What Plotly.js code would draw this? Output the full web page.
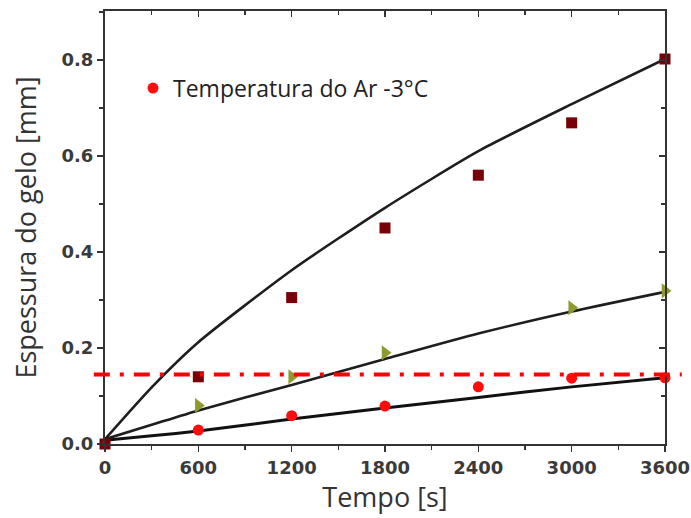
<!DOCTYPE html>
<html>
<head>
<meta charset="utf-8">
<script src="https://cdn.plot.ly/plotly-3.0.1.min.js"></script>
<style>html,body{margin:0;padding:0;background:#fff;}#chart{width:691px;height:518px;}</style>
</head>
<body>
<div id="chart"></div>
<script>
// Measured data
const timeSquares = [0, 600, 1200, 1800, 2400, 3000, 3600];
const thickSquares = [0.0, 0.140, 0.305, 0.450, 0.560, 0.669, 0.802];

const timeTriangles = [600, 1200, 1800, 3000, 3600];
const thickTriangles = [0.080, 0.140, 0.190, 0.284, 0.319];

const timeCircles = [600, 1200, 1800, 2400, 3000, 3600];
const thickCircles = [0.029, 0.059, 0.079, 0.119, 0.137, 0.138];

// Fitted curves
const fitTime = [0, 300, 600, 1200, 1800, 2400, 3000, 3600];
const fitUpper = [0.010, 0.118, 0.212, 0.362, 0.492, 0.610, 0.708, 0.802];
const fitMiddle = [0.010, 0.040, 0.070, 0.123, 0.177, 0.230, 0.276, 0.317];
const fitLower = [0.008, 0.017, 0.027, 0.052, 0.075, 0.097, 0.119, 0.138];

const limitThickness = 0.145;
const legendLabel = 'Temperatura do Ar -3°C';
const xTickVals = [0, 600, 1200, 1800, 2400, 3000, 3600];
const yTickVals = [0.0, 0.2, 0.4, 0.6, 0.8];
const yTickText = ['0.0', '0.2', '0.4', '0.6', '0.8'];

const lineStyle = {color: '#1e1e1e', width: 2.6, shape: 'spline', smoothing: 0.6};

const traces = [
  {x: fitTime, y: fitUpper, mode: 'lines', line: lineStyle, showlegend: false, hoverinfo: 'skip'},
  {x: fitTime, y: fitMiddle, mode: 'lines', line: lineStyle, showlegend: false, hoverinfo: 'skip'},
  {x: fitTime, y: fitLower, mode: 'lines', line: {color: '#111', width: 3, shape: 'spline', smoothing: 0.6}, showlegend: false, hoverinfo: 'skip'},
  {x: timeSquares, y: thickSquares, mode: 'markers', showlegend: false, cliponaxis: false,
   marker: {symbol: 'square', size: 11, color: '#780008'}},
  {x: timeTriangles, y: thickTriangles, mode: 'markers', showlegend: false, cliponaxis: false,
   marker: {symbol: 'triangle-right', size: 13, color: '#8e9a2c'}},
  {x: timeCircles, y: thickCircles, mode: 'markers', name: legendLabel, cliponaxis: false,
   marker: {symbol: 'circle', size: 11, color: '#ff0d0d'}},
  // invisible trace so the mirrored frame axes are drawn
  {x: [xTickVals[0]], y: [yTickVals[0]], xaxis: 'x2', yaxis: 'y2', mode: 'markers',
   marker: {opacity: 0}, showlegend: false, hoverinfo: 'skip'}
];

const tickFont = {family: 'DejaVu Sans, sans-serif', size: 18, color: '#3a3a3a', weight: 'bold'};
const titleFont = {family: 'Open Sans, Noto Sans, sans-serif', size: 27, color: '#333'};

const layout = {
  width: 691, height: 518,
  margin: {l: 105, r: 26, t: 11, b: 74},
  paper_bgcolor: '#fff', plot_bgcolor: '#fff',
  showlegend: true,
  legend: {x: 0.05, y: 0.822, xanchor: 'left', yanchor: 'middle', bgcolor: 'rgba(0,0,0,0)',
           font: {family: 'Open Sans, Noto Sans, sans-serif', size: 23, color: '#222'}},
  xaxis: {
    range: [0, 3600], tickvals: xTickVals, ticks: 'outside', ticklen: 6, tickwidth: 1.5, tickcolor: '#333',
    showline: true, linecolor: '#333', linewidth: 2, showgrid: false, zeroline: false,
    tickfont: tickFont,
    minor: {dtick: 300, ticks: 'outside', ticklen: 4, tickcolor: '#333'},
    title: {text: 'Tempo [s]', font: titleFont, standoff: 5}
  },
  yaxis: {
    range: [0, 0.902], tickvals: yTickVals, ticktext: yTickText,
    ticks: 'outside', ticklen: 6, tickwidth: 1.5, tickcolor: '#333',
    showline: true, linecolor: '#333', linewidth: 2, showgrid: false, zeroline: false,
    tickfont: tickFont,
    minor: {dtick: 0.1, ticks: 'outside', ticklen: 4, tickcolor: '#333'},
    title: {text: 'Espessura do gelo [mm]', font: titleFont, standoff: 17}
  },
  xaxis2: {
    overlaying: 'x', side: 'top', anchor: 'y2', range: [0, 3600], tickvals: xTickVals,
    ticks: 'inside', ticklen: 6, tickwidth: 1.5, tickcolor: '#333', showticklabels: false,
    showline: true, linecolor: '#333', linewidth: 2, showgrid: false, zeroline: false,
    minor: {dtick: 300, ticks: 'inside', ticklen: 4, tickcolor: '#333'}
  },
  yaxis2: {
    overlaying: 'y', side: 'right', anchor: 'x2', range: [0, 0.902], tickvals: yTickVals,
    ticks: 'inside', ticklen: 6, tickwidth: 1.5, tickcolor: '#333', showticklabels: false,
    showline: true, linecolor: '#333', linewidth: 2, showgrid: false, zeroline: false,
    minor: {dtick: 0.1, ticks: 'inside', ticklen: 4, tickcolor: '#333'}
  },
  shapes: [{
    type: 'line', xref: 'paper', yref: 'y', x0: -0.02, x1: 1.03, y0: limitThickness, y1: limitThickness,
    line: {color: '#ff0000', width: 4, dash: '16px,10px,4px,10px'}, layer: 'above'
  }]
};

Plotly.newPlot('chart', traces, layout, {displayModeBar: false, staticPlot: true});
</script>
</body>
</html>
